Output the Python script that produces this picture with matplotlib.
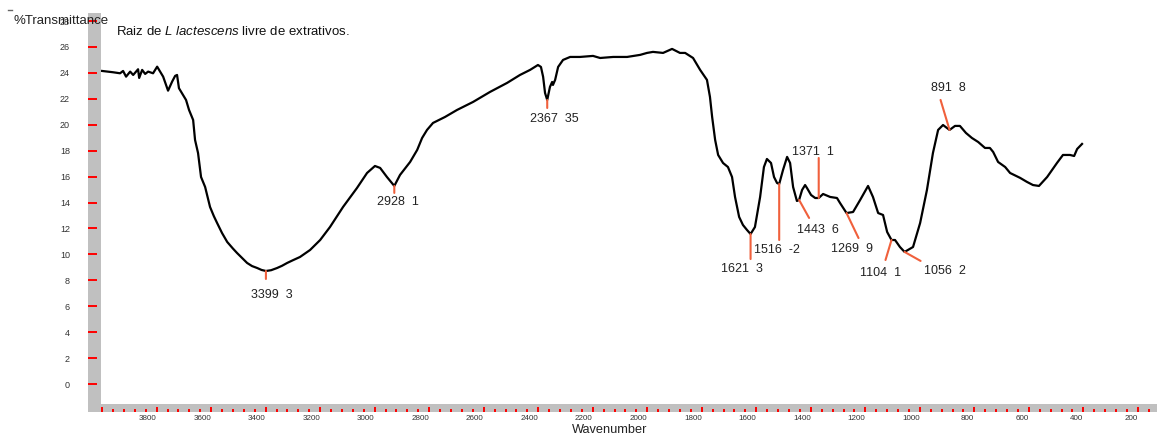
import numpy as np
import matplotlib
matplotlib.use('Agg')
import matplotlib.pyplot as plt
from matplotlib.patches import Rectangle
from matplotlib.lines import Line2D
from matplotlib.ticker import MultipleLocator, FuncFormatter

plt.rcParams['font.family'] = ['Liberation Sans', 'DejaVu Sans']
plt.rcParams['mathtext.fontset'] = 'custom'
plt.rcParams['mathtext.rm'] = 'Liberation Sans'
plt.rcParams['mathtext.it'] = 'Liberation Sans:italic'

# espectro IV (cm-1 / %T)
wavenumber = [4000, 3960, 3934, 3923, 3912, 3897, 3886, 3868, 3864, 3853, 3842, 3831,
              3813, 3798, 3787, 3776, 3758, 3743, 3732, 3725, 3718, 3703, 3692, 3681,
              3666, 3659, 3648, 3637, 3622, 3604, 3590, 3578, 3560, 3541, 3520, 3505,
              3485, 3468, 3450, 3431, 3415, 3399, 3380, 3358, 3340, 3321, 3300, 3274,
              3237, 3200, 3164, 3116, 3065, 3028, 2999, 2980, 2955,
              2928, 2907, 2870, 2844, 2826, 2808, 2786, 2742, 2698, 2639, 2577, 2514,
              2467, 2430, 2401, 2390, 2382, 2375, 2367, 2357, 2349, 2346, 2338, 2327,
              2309, 2283, 2247, 2199, 2173, 2125, 2074, 2026, 2001, 1979, 1942, 1909,
              1880, 1861, 1832, 1806, 1781, 1770, 1762, 1751, 1740, 1722, 1704, 1689,
              1678, 1663, 1649, 1634, 1621, 1605, 1586, 1572, 1561, 1546, 1535, 1524,
              1516, 1502, 1487, 1476, 1465, 1451, 1443, 1432, 1421, 1414, 1399, 1384,
              1371, 1355, 1329, 1304, 1293, 1269, 1245, 1219, 1190, 1172, 1153, 1135,
              1120, 1104, 1091, 1073, 1056, 1025, 999, 974, 952, 933, 915, 891,
              871, 853, 831, 809, 786, 761, 743, 731, 713, 687, 669, 632,
              607, 585, 563, 533, 497, 475, 449, 434, 423, 405]
transmittance = [24.15, 24.05, 23.97, 24.15, 23.71, 24.10, 23.84, 24.28, 23.61, 24.23, 23.92, 24.10,
                 23.97, 24.48, 24.10, 23.71, 22.63, 23.33, 23.77, 23.84, 22.82, 22.30, 21.91, 21.14,
                 20.37, 18.83, 17.82, 15.97, 15.20, 13.66, 12.95, 12.42, 11.65, 10.96, 10.45, 10.11,
                 9.70, 9.34, 9.10, 8.95, 8.80, 8.72, 8.78, 8.95, 9.12, 9.34, 9.55, 9.80,
                 10.34, 11.11, 12.11, 13.66, 15.12, 16.28, 16.82, 16.67, 15.97,
                 15.28, 16.13, 17.13, 18.06, 18.98, 19.60, 20.14, 20.60, 21.14, 21.76, 22.53, 23.23,
                 23.84, 24.23, 24.61, 24.46, 23.69, 22.45, 21.91, 22.92, 23.30, 23.07, 23.46, 24.46,
                 25.00, 25.23, 25.23, 25.31, 25.15, 25.23, 25.23, 25.39, 25.54, 25.62, 25.54, 25.85,
                 25.54, 25.54, 25.15, 24.23, 23.46, 22.15, 20.60, 18.83, 17.67, 17.05, 16.74, 15.97,
                 14.43, 12.89, 12.27, 11.88, 11.57, 12.11, 14.43, 16.74, 17.36, 17.05, 15.97, 15.51,
                 15.43, 16.51, 17.52, 17.05, 15.20, 14.12, 14.20, 14.97, 15.35, 15.12, 14.58, 14.35,
                 14.35, 14.66, 14.43, 14.35, 13.97, 13.19, 13.27, 14.20, 15.28, 14.43, 13.19, 13.04,
                 11.73, 11.11, 11.11, 10.57, 10.19, 10.57, 12.42, 14.97, 17.82, 19.60, 19.98, 19.60,
                 19.91, 19.91, 19.37, 18.98, 18.67, 18.21, 18.21, 17.90, 17.13, 16.74, 16.28, 15.90,
                 15.59, 15.35, 15.28, 15.97, 17.05, 17.67, 17.67, 17.59, 18.13, 18.52]

# picos marcados: numero de onda e intensidade impressa ao lado
peak_wn = [3399, 2928, 2367, 1621, 1516, 1443, 1371, 1269, 1104, 1056, 891]
peak_int = ['3', '1', '35', '3', '-2', '6', '1', '9', '1', '2', '8']

# deslocamentos (px) da ponta da linha e do centro do rotulo, y para baixo
line_off = [(0, 8), (0, 7), (0, 8), (0, 25), (0, 56), (10, 18), (0, -40),
            (12, 25), (-6, 20), (16, 9), (-9, -30)]
label_off = [(6, 24), (4, 16), (7, 19), (-9, 35), (-2, 66), (19, 30), (-6, -46),
             (5, 36), (-11, 33), (40, 19), (-1, -42)]

W, H, DPI = 1157, 438, 100
PX = 72.0 / DPI
fig = plt.figure(figsize=(W / DPI, H / DPI), dpi=DPI)
ax = fig.add_axes([101 / W, 34 / H, 1056 / W, 391 / H])

wn = np.array(wavenumber, dtype=float)
tr = np.array(transmittance, dtype=float)
ax.plot(wn, tr, color='black', lw=1.6, solid_joinstyle='round', zorder=3)

ax.set_xlim(4004, 130)
ax.set_ylim(-1.54, 28.62)

# faixas cinzentas dos eixos
gray = '#c0c0c0'
ax.add_patch(Rectangle((-13 / 1056, -8 / 391), 13 / 1056, 1 + 8 / 391,
                       transform=ax.transAxes, color=gray, clip_on=False, zorder=0.1, lw=0))
ax.add_patch(Rectangle((-13 / 1056, -8 / 391), 1 + 13 / 1056, 8 / 391,
                       transform=ax.transAxes, color=gray, clip_on=False, zorder=0.1, lw=0))

for s in ax.spines.values():
    s.set_visible(False)
ax.spines['left'].set_position(('outward', 13 * PX))
ax.spines['bottom'].set_position(('outward', 7.5 * PX))

ax.set_yticks(np.arange(0, 29, 2))
ax.tick_params(axis='y', direction='in', length=9 * PX, width=1.4, color='red',
               labelsize=6.5, labelcolor='#333333', pad=18 * PX)
ax.xaxis.set_major_locator(MultipleLocator(200))
ax.xaxis.set_minor_locator(MultipleLocator(40))
ax.xaxis.set_major_formatter(FuncFormatter(lambda v, p: '' if v >= 4000 else f'{v:.0f}'))
ax.tick_params(axis='x', which='major', direction='in', length=5.5 * PX, width=1.4,
               color='red', labelsize=5.8, labelcolor='#333333', pad=3 * PX)
ax.tick_params(axis='x', which='minor', direction='in', length=3 * PX, width=1.4, color='red')
for lab in ax.get_xticklabels():
    lab.set_ha('right')

# marcacao dos picos
order = np.argsort(wn)
orange = '#f0603c'
for w, it, lo, to in zip(peak_wn, peak_int, line_off, label_off):
    y = np.interp(w, wn[order], tr[order])
    ax.annotate('', xy=(w, y), xytext=(lo[0] * PX, -lo[1] * PX), textcoords='offset points',
                arrowprops=dict(arrowstyle='-', color=orange, lw=1.5, shrinkA=0, shrinkB=0),
                zorder=4)
    ax.annotate(f'{w}  {it}', xy=(w, y), xytext=(to[0] * PX, -to[1] * PX),
                textcoords='offset points', ha='center', va='center', fontsize=9,
                color='#222222', zorder=5)

fig.text(13 / W, 1 - 24 / H, '%Transmittance', fontsize=9.5, color='#222222', va='baseline')
fig.text(116 / W, 1 - 35 / H, r'Raiz de $\it{L\ lactescens}$ livre de extrativos.',
         fontsize=9.5, color='#111111', va='baseline')
fig.text(610 / W, 1 - 430 / H, 'Wavenumber', fontsize=9.2, color='#222222',
         ha='center', va='center')
fig.add_artist(Line2D([8 / W, 12 / W], [1 - 10 / H, 1 - 10 / H], color='#666666', lw=1))

fig.savefig('out.png', dpi=DPI)
